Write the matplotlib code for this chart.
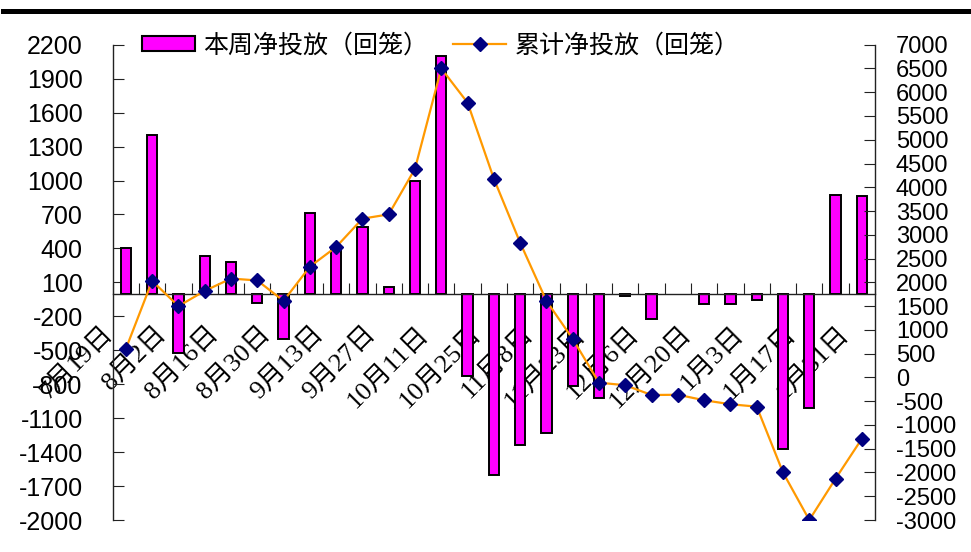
import numpy as np
import matplotlib
matplotlib.use('Agg')
import matplotlib.pyplot as plt
from matplotlib.patches import Patch
from matplotlib.lines import Line2D
from matplotlib.transforms import ScaledTranslation

plt.rcParams['axes.unicode_minus'] = False

# weekly net injection (withdrawal), left axis
weekly = [400, 1400, -520, 330, 280, -80, -400, 715, 395, 590, 60, 1000, 2100, -730,
          -1600, -1335, -1230, -820, -925, -20, -220, 0, -95, -95, -60, -1370, -1010, 875, 860]
# cumulative net injection (withdrawal), right axis
cumulative = [600, 2030, 1500, 1820, 2080, 2040, 1610, 2330, 2745, 3340, 3430, 4390, 6500, 5780,
              4180, 2835, 1610, 810, -110, -165, -370, -365, -480, -565, -615, -2000, -3000, -2130, -1290]
# dates shown under every other week
date_labels = ['7月19日', '8月2日', '8月16日', '8月30日', '9月13日', '9月27日', '10月11日',
               '10月25日', '11月8日', '11月23日', '12月6日', '12月20日', '1月3日', '1月17日', '1月31日']
legend_labels = ['本周净投放（回笼）', '累计净投放（回笼）']

bar_color = '#FF00FF'
line_color = '#FF9900'
marker_color = '#000080'
num_font = ['Liberation Sans', 'DejaVu Sans']
date_font = ['Liberation Serif', 'Noto Sans CJK SC', 'DejaVu Sans']
cjk_font = ['Noto Sans CJK SC', 'DejaVu Sans']

x = np.arange(len(weekly))
weekly_arr = np.array(weekly, dtype=float)
has_bar = weekly_arr != 0

fig = plt.figure(figsize=(9.71, 5.52), dpi=100)
ax = fig.add_axes([0.11607, 0.05797, 0.78507, 0.86105])
ax2 = ax.twinx()

# weeks with no net flow get no bar at all
ax.bar(x[has_bar], weekly_arr[has_bar], width=0.39, color=bar_color,
       edgecolor='black', linewidth=1.4, zorder=2)
ax2.plot(x, cumulative, color=line_color, lw=1.6, marker='D', ms=7,
         mfc=marker_color, mec=marker_color, zorder=3)

ax.set_xlim(-0.5, len(weekly) - 0.5)
ax.set_ylim(-2000, 2200)
ax.set_yticks(np.arange(-2000, 2201, 300))
ax2.set_ylim(-3000, 7000)
ax2.set_yticks(np.arange(-3000, 7001, 500))

# spines: category axis crosses at zero on the left scale
for s in ['top', 'right']:
    ax.spines[s].set_visible(False)
for s in ['top', 'left', 'bottom']:
    ax2.spines[s].set_visible(False)
ax.spines['bottom'].set_position(('data', 0))
for sp in [ax.spines['left'], ax.spines['bottom'], ax2.spines['right']]:
    sp.set_linewidth(1.0)
    sp.set_color('#222222')

ax.tick_params(axis='y', direction='in', length=8, pad=21.6, labelsize=18, color='#222222')
ax2.tick_params(axis='y', direction='in', length=8, pad=15, labelsize=17, color='#222222')
for lab in ax.get_yticklabels() + ax2.get_yticklabels():
    lab.set_family(num_font)

# tick marks between categories, labels on every other category
ax.set_xticks(np.arange(-0.5, len(weekly), 1))
ax.set_xticklabels([])
ax.tick_params(axis='x', which='major', direction='in', length=8, color='#222222')
ax.set_xticks(x[::2], minor=True)
ax.set_xticklabels(date_labels, minor=True)
ax.tick_params(axis='x', which='minor', length=0, pad=26.5, labelsize=19)
shift = ScaledTranslation(-0.16, 0, fig.dpi_scale_trans)
for lab in ax.get_xticklabels(minor=True):
    lab.set_rotation(45)
    lab.set_rotation_mode('anchor')
    lab.set_ha('right')
    lab.set_va('center')
    lab.set_family(date_font)
    lab.set_transform(lab.get_transform() + shift)

handles = [Patch(facecolor=bar_color, edgecolor='black', linewidth=1.5),
           Line2D([], [], color=line_color, lw=1.6, marker='D', ms=7,
                  mfc=marker_color, mec=marker_color)]
fig.legend(handles, legend_labels, loc='center left', bbox_to_anchor=(142 / 971, 1 - 45.5 / 552),
           ncol=2, frameon=False, borderpad=0, borderaxespad=0, handlelength=2.1,
           handleheight=0.56, handletextpad=0.35, columnspacing=1.0,
           prop={'family': cjk_font, 'size': 18})

# heavy rule across the top
fig.add_artist(Line2D([3 / 971, 1], [1 - 10.5 / 552] * 2, lw=3.6, color='black'))

fig.savefig('out.png', dpi=100)
